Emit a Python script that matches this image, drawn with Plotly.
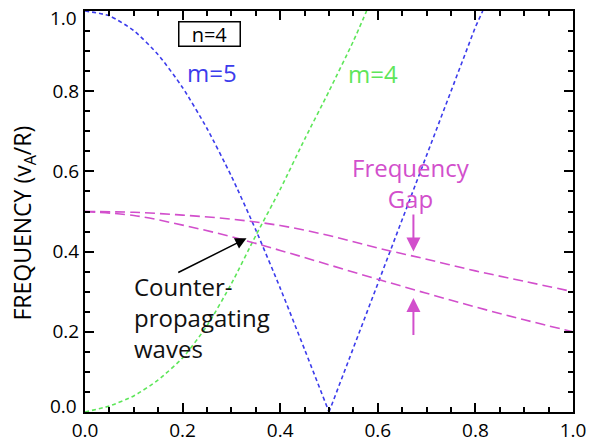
import plotly.graph_objects as go

# ---- data ----
blue_left_x = [0.0, 0.05, 0.1, 0.15, 0.2, 0.25, 0.3, 0.35, 0.4, 0.45, 0.5]
blue_left_y = [1.0, 0.988, 0.951, 0.891, 0.809, 0.707, 0.588, 0.454, 0.309, 0.156, 0.0]
blue_right_x = [0.5, 0.55, 0.6, 0.65, 0.7, 0.75, 0.8, 0.815]
blue_right_y = [0.0, 0.16, 0.32, 0.48, 0.64, 0.80, 0.96, 1.0]

green_x = [0.0, 0.05, 0.1, 0.15, 0.2, 0.25, 0.3, 0.35, 0.4, 0.45, 0.5, 0.55, 0.577]
green_y = [0.0, 0.015, 0.04, 0.08, 0.135, 0.215, 0.32, 0.44, 0.555, 0.68, 0.80, 0.925, 1.0]

gap_x = [0.0, 0.1, 0.2, 0.3, 0.4, 0.5, 0.6, 0.7, 0.8, 0.9, 1.0]
upper_y = [0.5, 0.498, 0.491, 0.481, 0.465, 0.440, 0.409, 0.381, 0.352, 0.326, 0.30]
lower_y = [0.5, 0.49, 0.466, 0.437, 0.403, 0.367, 0.331, 0.296, 0.262, 0.23, 0.2]

x_tick_vals = [0.0, 0.2, 0.4, 0.6, 0.8, 1.0]
x_tick_text = ["0.0", "0.2", "0.4", "0.6", "0.8", "1.0"]
y_tick_vals = [0.2, 0.4, 0.6, 0.8]
y_tick_text = ["0.2", "0.4", "0.6", "0.8"]

BLUE = "#3c3cec"
GREEN = "#5ee65a"
MAG = "#d24fcc"
FONT = "Open Sans"

fig = go.Figure()
short_dash = "4px,3px"
long_dash = "10px,5px"
fig.add_trace(go.Scatter(x=blue_left_x, y=blue_left_y, mode="lines",
                         line=dict(color=BLUE, width=1.6, dash=short_dash, shape="spline", smoothing=0.6)))
fig.add_trace(go.Scatter(x=blue_right_x, y=blue_right_y, mode="lines",
                         line=dict(color=BLUE, width=1.6, dash=short_dash)))
fig.add_trace(go.Scatter(x=green_x, y=green_y, mode="lines",
                         line=dict(color=GREEN, width=1.6, dash=short_dash, shape="spline", smoothing=0.6)))
fig.add_trace(go.Scatter(x=gap_x, y=upper_y, mode="lines",
                         line=dict(color=MAG, width=1.6, dash=long_dash, shape="spline")))
fig.add_trace(go.Scatter(x=gap_x, y=lower_y, mode="lines",
                         line=dict(color=MAG, width=1.6, dash=long_dash, shape="spline")))

axis_common = dict(
    range=[0, 1], showgrid=False, zeroline=False, automargin=False,
    showline=True, linecolor="black", linewidth=2, mirror="ticks",
    ticks="inside", ticklen=9, tickwidth=1.5, tickcolor="black",
    tickfont=dict(family=FONT, size=19, color="black"),
    minor=dict(dtick=0.05, tick0=0, ticks="inside", ticklen=5, tickwidth=1.5, tickcolor="black"),
)

fig.update_xaxes(**axis_common, tickvals=x_tick_vals, ticktext=x_tick_text)
fig.update_yaxes(**axis_common, tickvals=y_tick_vals, ticktext=y_tick_text)

ann = []
# y axis end labels (shifted inward as in the reference)
ann.append(dict(xref="paper", yref="y", x=0, y=0, text="0.0", showarrow=False,
                xanchor="right", xshift=-6, yshift=6,
                font=dict(family=FONT, size=19, color="black")))
ann.append(dict(xref="paper", yref="y", x=0, y=1, text="1.0", showarrow=False,
                xanchor="right", xshift=-6, yshift=-7,
                font=dict(family=FONT, size=19, color="black")))
# y axis title
ann.append(dict(xref="paper", yref="paper", x=-0.125, y=0.47, textangle=-90,
                xanchor="center", yanchor="middle",
                text="FREQUENCY (v<sub>A</sub>/R)", showarrow=False,
                font=dict(family=FONT, size=23, color="black")))
# n=4 box
ann.append(dict(x=0.256, y=0.943, text="n=4", showarrow=False,
                font=dict(family=FONT, size=20, color="black"),
                bordercolor="black", borderwidth=1.5, borderpad=1,
                width=58, height=21, bgcolor="white"))
ann.append(dict(x=0.261, y=0.846, text="m=5", showarrow=False,
                font=dict(family=FONT, size=24, color=BLUE)))
ann.append(dict(x=0.590, y=0.845, text="m=4", showarrow=False,
                font=dict(family=FONT, size=24, color=GREEN)))
ann.append(dict(x=0.667, y=0.572, text="Frequency<br>Gap", showarrow=False,
                font=dict(family=FONT, size=24, color=MAG), align="center"))
ann.append(dict(x=0.096, y=0.235, text="Counter-<br>propagating<br>waves", showarrow=False,
                xanchor="left", align="left",
                font=dict(family=FONT, size=24, color="#111111")))
# arrows
ann.append(dict(x=0.331, y=0.433, ax=0.188, ay=0.346, axref="x", ayref="y",
                text="", showarrow=True, arrowhead=2, arrowsize=1.5, arrowwidth=1.5,
                arrowcolor="black"))
ann.append(dict(x=0.673, y=0.40, ax=0.673, ay=0.496, axref="x", ayref="y",
                text="", showarrow=True, arrowhead=2, arrowsize=1.4, arrowwidth=2,
                arrowcolor=MAG))
ann.append(dict(x=0.673, y=0.284, ax=0.673, ay=0.188, axref="x", ayref="y",
                text="", showarrow=True, arrowhead=2, arrowsize=1.4, arrowwidth=2,
                arrowcolor=MAG))

fig.update_layout(
    width=589, height=446,
    margin=dict(l=85, r=16, t=11, b=34),
    paper_bgcolor="white", plot_bgcolor="white",
    showlegend=False,
    annotations=ann,
)

fig.write_html("out.html")
